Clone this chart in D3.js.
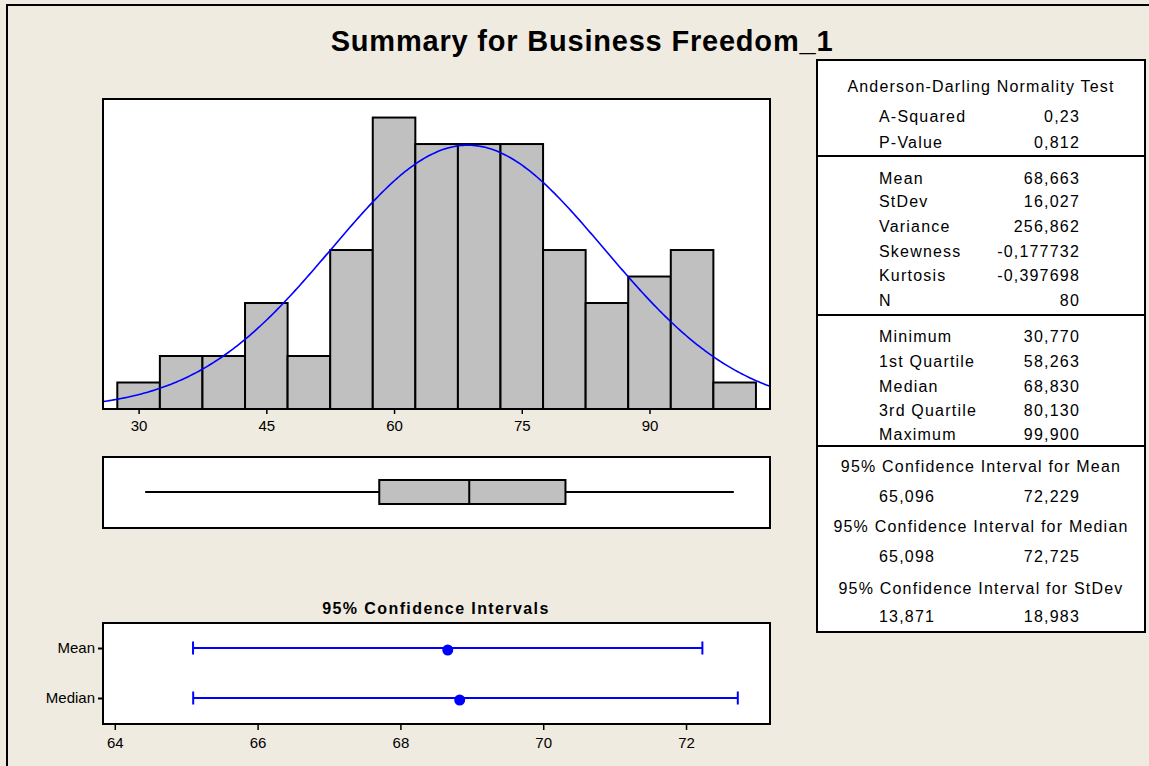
<!DOCTYPE html>
<html>
<head>
<meta charset="utf-8">
<script src="https://cdn.jsdelivr.net/npm/d3@7"></script>
<style>
  body { margin: 0; background: #efebe1; }
  svg { display: block; }
  text { font-family: "Liberation Sans", Arial, sans-serif; fill: #000; }
</style>
</head>
<body>
<svg id="chart" width="1149" height="766"></svg>
<script>
// histogram bins (width 5) and counts
const binStarts = [27.5, 32.5, 37.5, 42.5, 47.5, 52.5, 57.5, 62.5, 67.5, 72.5, 77.5, 82.5, 87.5, 92.5, 97.5];
const binCounts = [1, 2, 2, 4, 2, 6, 11, 10, 10, 10, 6, 4, 5, 6, 1];
const binWidth = 5;
const histTicks = [30, 45, 60, 75, 90];

// summary statistics
const mean = 68.663, stdev = 16.027, n = 80;
const fiveNum = { min: 30.770, q1: 58.263, median: 68.830, q3: 80.130, max: 99.900 };

// confidence intervals
const ciRows = ['Mean', 'Median'];
const ciCenters = [68.663, 68.830];
const ciLow = [65.096, 65.098];
const ciHigh = [72.229, 72.725];
const ciTicks = [64, 66, 68, 70, 72];

// table text
const adLabels = ['A-Squared', 'P-Value'];
const adValues = ['0,23', '0,812'];
const momentLabels = ['Mean', 'StDev', 'Variance', 'Skewness', 'Kurtosis', 'N'];
const momentValues = ['68,663', '16,027', '256,862', '-0,177732', '-0,397698', '80'];
const quantLabels = ['Minimum', '1st Quartile', 'Median', '3rd Quartile', 'Maximum'];
const quantValues = ['30,770', '58,263', '68,830', '80,130', '99,900'];
const ciTitles = ['95% Confidence Interval for Mean', '95% Confidence Interval for Median', '95% Confidence Interval for StDev'];
const ciTableLow = ['65,096', '65,098', '13,871'];
const ciTableHigh = ['72,229', '72,725', '18,983'];

const svg = d3.select('#chart');

// outer frame (top and left only)
svg.append('path').attr('d', 'M7,766V5H1149').attr('fill', 'none').attr('stroke', '#000').attr('stroke-width', 2);

svg.append('text').attr('x', 582).attr('y', 51).attr('text-anchor', 'middle')
  .style('font-size', '29px').style('font-weight', 'bold').style('letter-spacing', '0.8px')
  .text('Summary for Business Freedom_1');

// ---- histogram ----
const px0 = 103, px1 = 770;
const x = d3.scaleLinear().domain([25.82, 104.15]).range([px0, px1]);
const hTop = 99, hBot = 409;
const y = d3.scaleLinear().domain([0, 11.7]).range([hBot, hTop]);

svg.append('rect').attr('x', px0).attr('y', hTop).attr('width', px1 - px0).attr('height', hBot - hTop)
  .attr('fill', '#fff');

svg.selectAll('.bar').data(binStarts).enter().append('rect')
  .attr('class', 'bar')
  .attr('x', d => x(d))
  .attr('y', (d, i) => y(binCounts[i]))
  .attr('width', d => x(d + binWidth) - x(d))
  .attr('height', (d, i) => y(0) - y(binCounts[i]))
  .attr('fill', '#c0c0c0').attr('stroke', '#000').attr('stroke-width', 2);

const normal = v => n * binWidth * Math.exp(-0.5 * Math.pow((v - mean) / stdev, 2)) / (stdev * Math.sqrt(2 * Math.PI));
const curveX = d3.range(x.domain()[0], x.domain()[1] + 0.01, 0.25);
svg.append('path').datum(curveX)
  .attr('d', d3.line().x(d => x(d)).y(d => y(normal(d))))
  .attr('fill', 'none').attr('stroke', '#0000ff').attr('stroke-width', 1.6);

svg.append('rect').attr('x', px0).attr('y', hTop).attr('width', px1 - px0).attr('height', hBot - hTop)
  .attr('fill', 'none').attr('stroke', '#000').attr('stroke-width', 2);

const hAxis = svg.append('g').attr('transform', `translate(0,${hBot})`)
  .call(d3.axisBottom(x).tickValues(histTicks).tickSize(5).tickPadding(6));
hAxis.select('.domain').remove();
hAxis.selectAll('line').attr('stroke-width', 1.5);
hAxis.selectAll('text').style('font-size', '15px').style('font-family', '"Liberation Sans", Arial, sans-serif');

// ---- boxplot ----
const bTop = 457, bBot = 528, bMid = 492;
svg.append('rect').attr('x', px0).attr('y', bTop).attr('width', px1 - px0).attr('height', bBot - bTop)
  .attr('fill', '#fff').attr('stroke', '#000').attr('stroke-width', 2);
svg.append('line').attr('x1', x(fiveNum.min)).attr('x2', x(fiveNum.max)).attr('y1', bMid).attr('y2', bMid)
  .attr('stroke', '#000').attr('stroke-width', 2);
svg.append('rect').attr('x', x(fiveNum.q1)).attr('y', bMid - 12)
  .attr('width', x(fiveNum.q3) - x(fiveNum.q1)).attr('height', 24)
  .attr('fill', '#c0c0c0').attr('stroke', '#000').attr('stroke-width', 2);
svg.append('line').attr('x1', x(fiveNum.median)).attr('x2', x(fiveNum.median)).attr('y1', bMid - 12).attr('y2', bMid + 12)
  .attr('stroke', '#000').attr('stroke-width', 2);

// ---- confidence intervals ----
const cTop = 623, cBot = 724;
const cx = d3.scaleLinear().domain([63.835, 73.176]).range([px0, px1]);
const cy = d3.scalePoint().domain(ciRows).range([648, 698]);

svg.append('text').attr('x', 436).attr('y', 614).attr('text-anchor', 'middle')
  .style('font-size', '16px').style('font-weight', 'bold').style('letter-spacing', '1.4px')
  .text('95% Confidence Intervals');

svg.append('rect').attr('x', px0).attr('y', cTop).attr('width', px1 - px0).attr('height', cBot - cTop)
  .attr('fill', '#fff').attr('stroke', '#000').attr('stroke-width', 2);

const rows = svg.selectAll('.ci').data(ciRows).enter().append('g').attr('class', 'ci');
rows.append('line').attr('x1', (d, i) => cx(ciLow[i])).attr('x2', (d, i) => cx(ciHigh[i]))
  .attr('y1', d => cy(d)).attr('y2', d => cy(d)).attr('stroke', '#0000ff').attr('stroke-width', 2);
rows.append('line').attr('x1', (d, i) => cx(ciLow[i])).attr('x2', (d, i) => cx(ciLow[i]))
  .attr('y1', d => cy(d) - 6.5).attr('y2', d => cy(d) + 6.5).attr('stroke', '#0000ff').attr('stroke-width', 2);
rows.append('line').attr('x1', (d, i) => cx(ciHigh[i])).attr('x2', (d, i) => cx(ciHigh[i]))
  .attr('y1', d => cy(d) - 6.5).attr('y2', d => cy(d) + 6.5).attr('stroke', '#0000ff').attr('stroke-width', 2);
rows.append('circle').attr('cx', (d, i) => cx(ciCenters[i])).attr('cy', d => cy(d) + 2)
  .attr('r', 5.5).attr('fill', '#0000ff');

const cxAxis = svg.append('g').attr('transform', `translate(0,${cBot})`)
  .call(d3.axisBottom(cx).tickValues(ciTicks).tickSize(6).tickPadding(7));
cxAxis.select('.domain').remove();
cxAxis.selectAll('line').attr('stroke-width', 1.5);
cxAxis.selectAll('text').style('font-size', '15px').style('font-family', '"Liberation Sans", Arial, sans-serif');

const cyAxis = svg.append('g').attr('transform', `translate(${px0},0)`)
  .call(d3.axisLeft(cy).tickSize(5).tickPadding(3));
cyAxis.select('.domain').remove();
cyAxis.selectAll('line').attr('stroke-width', 2);
cyAxis.selectAll('text').style('font-size', '15px').style('font-family', '"Liberation Sans", Arial, sans-serif');

// ---- statistics table ----
const tL = 817, tR = 1145, tTop = 60, tBot = 632;
svg.append('rect').attr('x', tL).attr('y', tTop).attr('width', tR - tL).attr('height', tBot - tTop)
  .attr('fill', '#fff').attr('stroke', '#000').attr('stroke-width', 2);
[156, 315, 446].forEach(yy => {
  svg.append('line').attr('x1', tL).attr('x2', tR).attr('y1', yy).attr('y2', yy)
    .attr('stroke', '#000').attr('stroke-width', 2);
});

const tc = (tL + tR) / 2, labX = 879, valX = 1080;
const tText = (xx, yy, s, anchor) => svg.append('text').attr('x', xx).attr('y', yy + 5.5)
  .attr('text-anchor', anchor).style('font-size', '16px').style('letter-spacing', '1.2px').text(s);

tText(tc, 86.5, 'Anderson-Darling Normality Test', 'middle');
const pairRows = (labels, values, ys) => labels.forEach((l, i) => {
  tText(labX, ys[i], l, 'start');
  tText(valX, ys[i], values[i], 'end');
});
pairRows(adLabels, adValues, [116.5, 142]);
pairRows(momentLabels, momentValues, [178, 201.5, 226, 251, 275.5, 300]);
pairRows(quantLabels, quantValues, [336.5, 361, 386, 410, 434]);
const ciHeadY = [466.5, 526.5, 588], ciValY = [496.5, 556.5, 616.5];
ciTitles.forEach((t, i) => {
  tText(tc, ciHeadY[i], t, 'middle');
  tText(labX, ciValY[i], ciTableLow[i], 'start');
  tText(valX, ciValY[i], ciTableHigh[i], 'end');
});
</script>
</body>
</html>
